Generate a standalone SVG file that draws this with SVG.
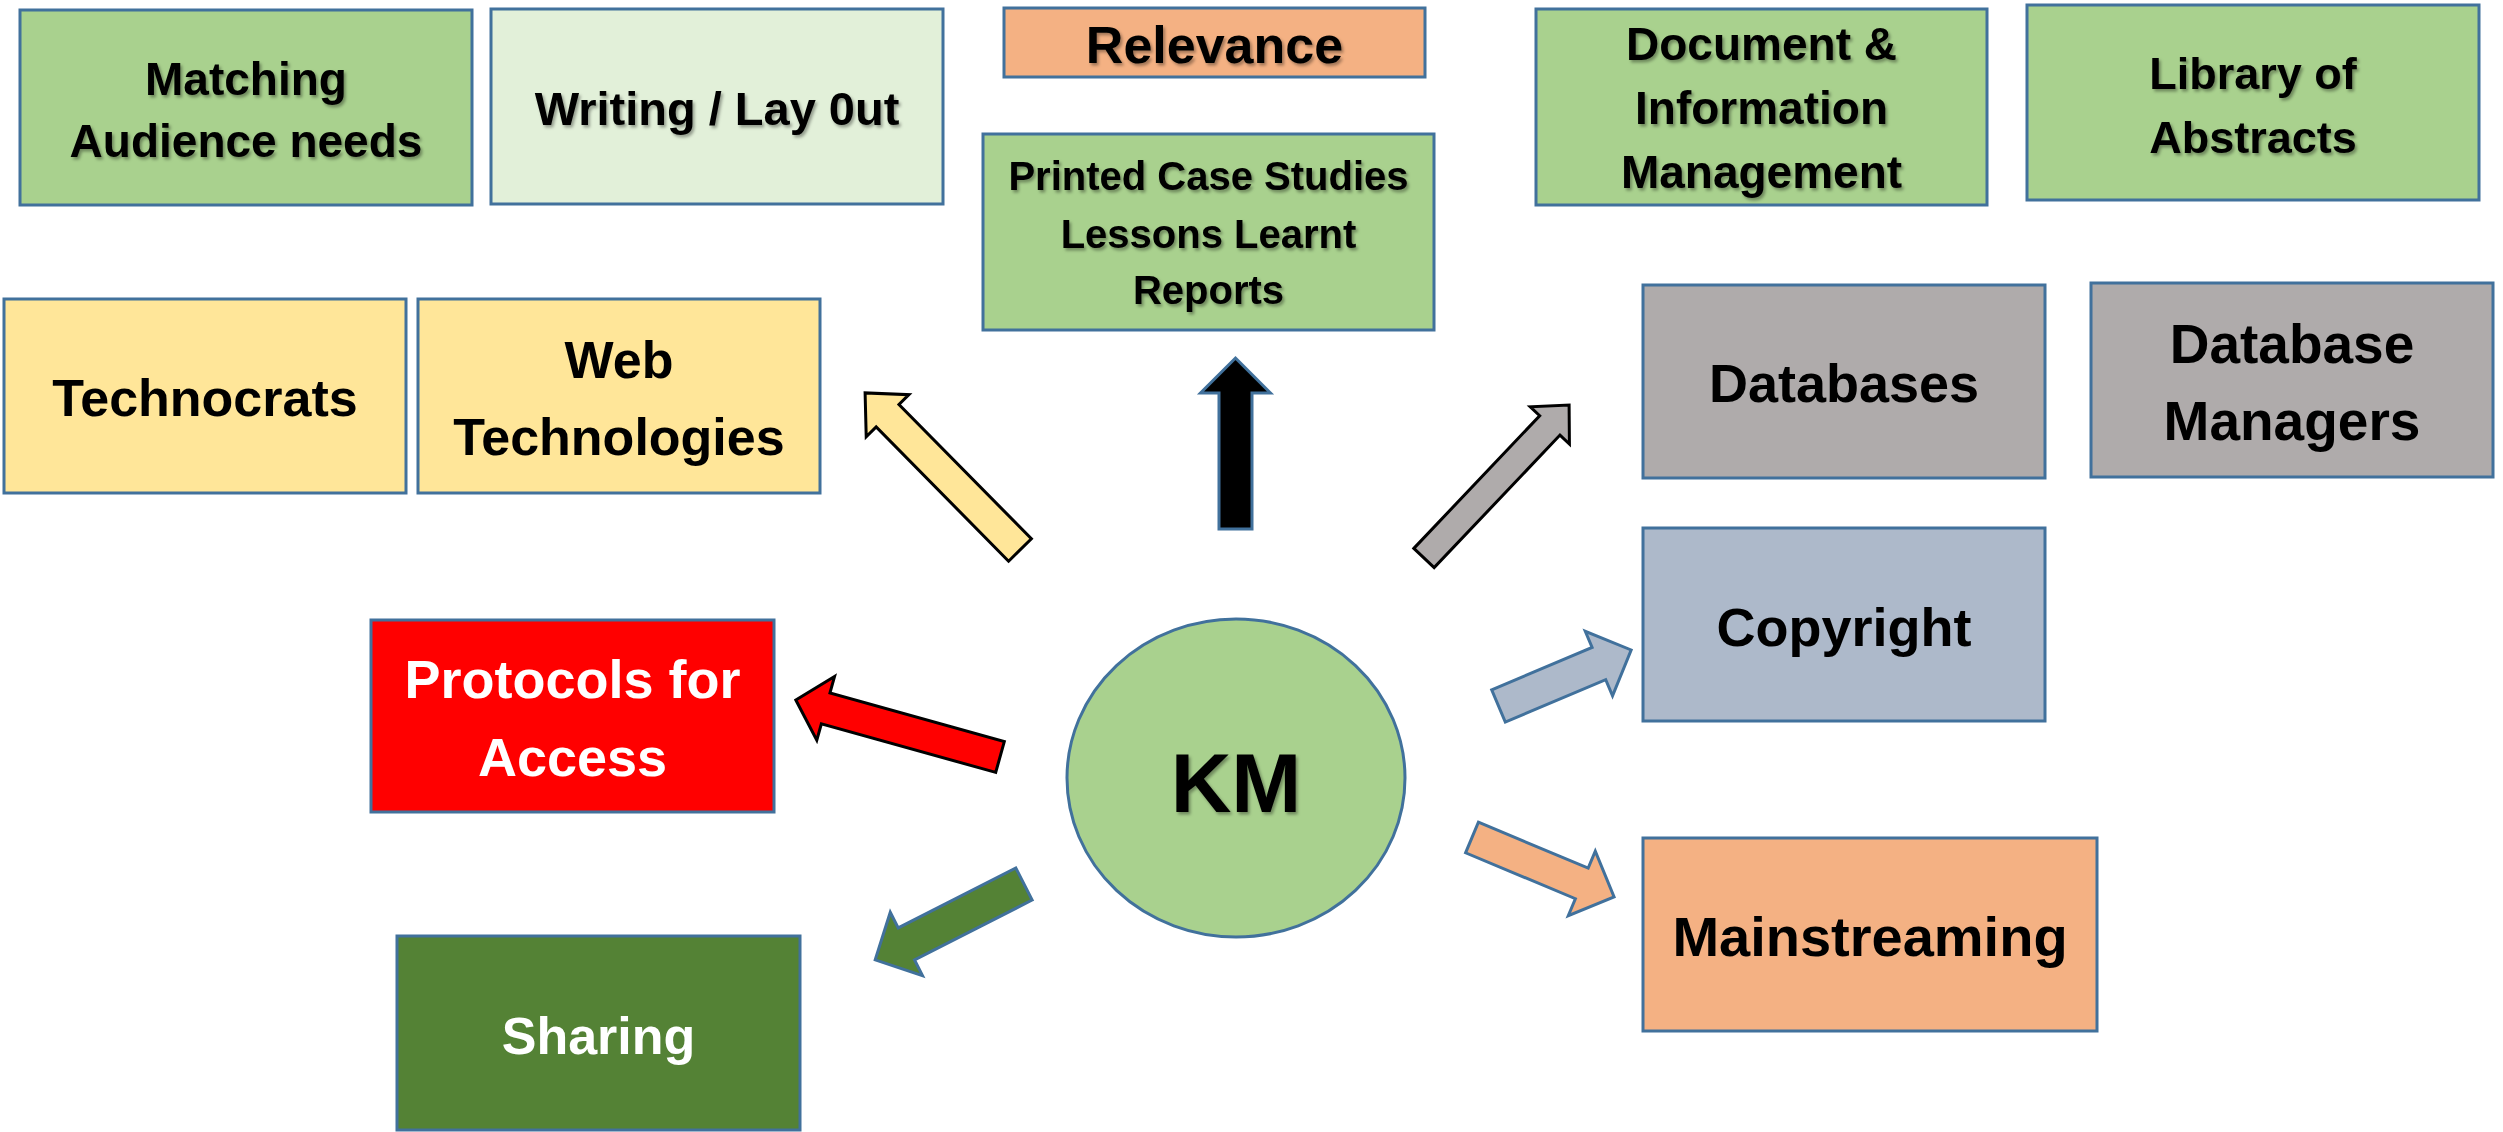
<svg xmlns="http://www.w3.org/2000/svg" width="2503" height="1132" viewBox="0 0 2503 1132">
<defs>
<filter id="ts" x="-10%" y="-20%" width="120%" height="150%">
<feDropShadow dx="2" dy="2.5" stdDeviation="1.5" flood-color="#000" flood-opacity="0.35"/>
</filter>
</defs>
<style>
.box{stroke:#41719C;stroke-width:3}
.t{font-family:"Liberation Sans",Arial,sans-serif;font-weight:bold;text-anchor:middle;fill:#000}
.sh{filter:url(#ts)}
.w{fill:#fff}
.g1{fill:#A9D18E}
.g2{fill:#E2F0D9}
.or{fill:#F4B183}
.ye{fill:#FFE699}
.gr{fill:#AFABAB}
.bl{fill:#ADB9CA}
.rd{fill:#FF0000}
.dg{fill:#548235}
.arr{stroke-width:3;stroke-linejoin:miter}
</style>
<rect width="2503" height="1132" fill="#fff"/>

<g id="connectors">
<path class="arr" fill="#FFE699" stroke="#000" transform="translate(1020,550) rotate(225.4)" d="M0,-16 H188.6 V-30 L220.6,0 L188.6,30 V16 H0 Z"/>
<path class="arr" fill="#000" stroke="#41719C" transform="translate(1235.5,529) rotate(-90)" d="M0,-16.5 H136 V-35 L171,0 L136,35 V16.5 H0 Z"/>
<path class="arr" fill="#AFABAB" stroke="#000" transform="translate(1424,558) rotate(-46.5)" d="M0,-14 H182.8 V-27 L210.8,0 L182.8,27 V14 H0 Z"/>
<path class="arr" fill="#FF0000" stroke="#000" transform="translate(1000,757) rotate(195.6)" d="M0,-16 H181 V-33 L212,0 L181,33 V16 H0 Z"/>
<path class="arr" fill="#548235" stroke="#41719C" transform="translate(1024,884) rotate(153)" d="M0,-18 H132 V-35.5 L167,0 L132,35.5 V18 H0 Z"/>
<path class="arr" fill="#ADB9CA" stroke="#41719C" transform="translate(1498.5,706) rotate(-22.9)" d="M0,-17.5 H109 V-35 L144,0 L109,35 V17.5 H0 Z"/>
<path class="arr" fill="#F4B183" stroke="#41719C" transform="translate(1472,837.5) rotate(22.7)" d="M0,-16.6 H119 V-35 L154,0 L119,35 V16.6 H0 Z"/>
</g>

<g id="matching">
<rect class="box g1" x="20" y="10" width="452" height="195"/>
<text class="t sh" x="246" y="95" font-size="46">Matching</text>
<text class="t sh" x="246" y="157" font-size="46">Audience needs</text>
</g>

<g id="writing">
<rect class="box g2" x="491" y="9" width="452" height="195"/>
<text class="t sh" x="717" y="125" font-size="47">Writing / Lay 0ut</text>
</g>

<g id="relevance">
<rect class="box or" x="1004" y="8" width="421" height="69"/>
<text class="t sh" x="1214.5" y="63" font-size="52">Relevance</text>
</g>

<g id="printed">
<rect class="box g1" x="983" y="134" width="451" height="196"/>
<text class="t sh" x="1208.5" y="190" font-size="40">Printed Case Studies</text>
<text class="t sh" x="1208.5" y="248" font-size="40">Lessons Learnt</text>
<text class="t sh" x="1208.5" y="304" font-size="40">Reports</text>
</g>

<g id="document">
<rect class="box g1" x="1536" y="9" width="451" height="196"/>
<text class="t sh" x="1761.5" y="60" font-size="46">Document &amp;</text>
<text class="t sh" x="1761.5" y="124" font-size="46">Information</text>
<text class="t sh" x="1761.5" y="188" font-size="46">Management</text>
</g>

<g id="library">
<rect class="box g1" x="2027" y="5" width="452" height="195"/>
<text class="t sh" x="2253" y="89" font-size="45">Library of</text>
<text class="t sh" x="2253" y="153" font-size="45">Abstracts</text>
</g>

<g id="technocrats">
<rect class="box ye" x="4" y="299" width="402" height="194"/>
<text class="t" x="205" y="416" font-size="52">Technocrats</text>
</g>

<g id="web">
<rect class="box ye" x="418" y="299" width="402" height="194"/>
<text class="t" x="619" y="378" font-size="52">Web</text>
<text class="t" x="619" y="455" font-size="52">Technologies</text>
</g>

<g id="databases">
<rect class="box gr" x="1643" y="285" width="402" height="193"/>
<text class="t" x="1844" y="402" font-size="54">Databases</text>
</g>

<g id="dbmanagers">
<rect class="box gr" x="2091" y="283" width="402" height="194"/>
<text class="t" x="2292" y="363" font-size="55">Database</text>
<text class="t" x="2292" y="440" font-size="55">Managers</text>
</g>

<g id="copyright">
<rect class="box bl" x="1643" y="528" width="402" height="193"/>
<text class="t" x="1844" y="646" font-size="54">Copyright</text>
</g>

<g id="mainstreaming">
<rect class="box or" x="1643" y="838" width="454" height="193"/>
<text class="t" x="1870" y="956" font-size="56">Mainstreaming</text>
</g>

<g id="protocols">
<rect class="box rd" x="371" y="620" width="403" height="192"/>
<text class="t w" x="572.5" y="698" font-size="54">Protocols for</text>
<text class="t w" x="572.5" y="776" font-size="54">Access</text>
</g>

<g id="sharing">
<rect class="box dg" x="397" y="936" width="403" height="194"/>
<text class="t w" x="598.5" y="1054" font-size="52">Sharing</text>
</g>

<g id="km">
<ellipse cx="1236" cy="778" rx="169" ry="159" fill="#A9D18E" stroke="#41719C" stroke-width="3"/>
<text class="t sh" x="1236" y="812" font-size="84">KM</text>
</g>
</svg>
